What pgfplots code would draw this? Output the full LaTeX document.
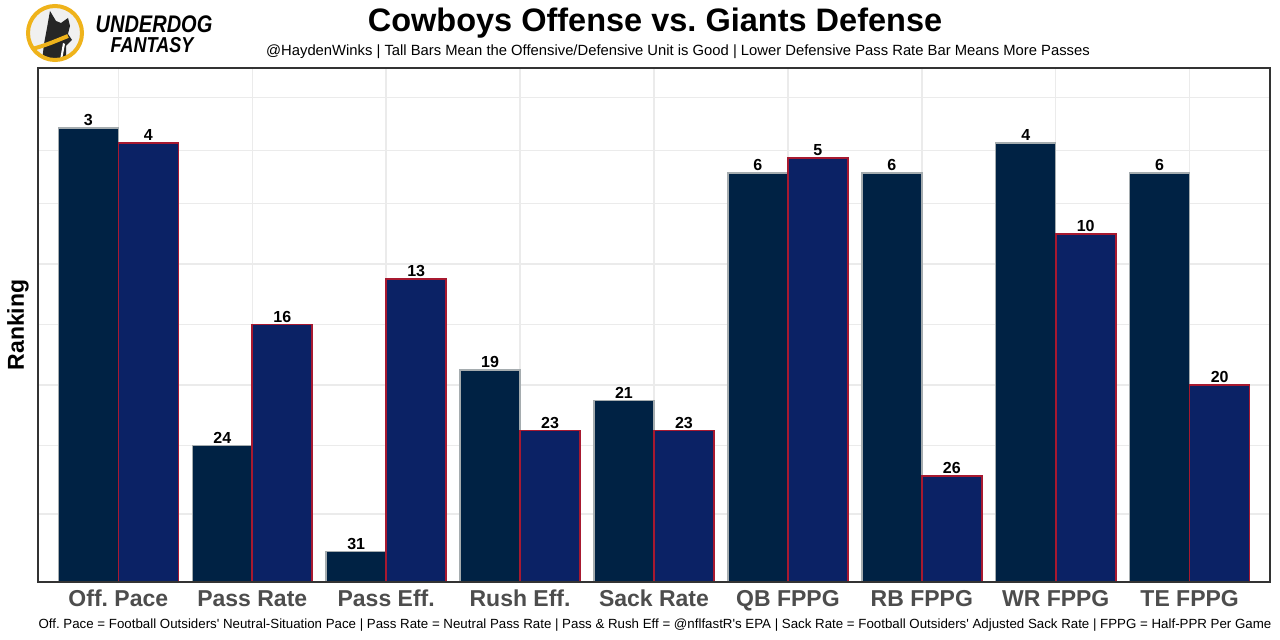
\documentclass[border=0pt]{standalone}
\usepackage{fontspec}
\setmainfont{Liberation Sans}
\usepackage{pgfplots}
\usepackage{pgfplotstable}
\pgfplotsset{compat=1.18}
\frenchspacing
\definecolor{offfill}{HTML}{002244}
\definecolor{offline}{HTML}{A5ACAF}
\definecolor{deffill}{HTML}{0B2265}
\definecolor{defline}{HTML}{A71930}
\definecolor{gridc}{HTML}{EBEBEB}
\definecolor{tickc}{HTML}{4D4D4D}
\definecolor{udyellow}{HTML}{EFB31B}

\pgfplotstableread{
x v r
0 30 3
1 9 24
2 2 31
3 14 19
4 12 21
5 27 6
6 27 6
7 29 4
8 27 6
}\offense
\pgfplotstableread{
x v r
0 29 4
1 17 16
2 20 13
3 10 23
4 10 23
5 28 5
6 7 26
7 23 10
8 13 20
}\defense

\begin{document}
\frenchspacing
\begin{tikzpicture}[x=1pt,y=1pt]
\useasboundingbox (0,0) rectangle (1280,640);
\fill[white] (0,0) rectangle (1280,640);
\begin{axis}[
 at={(38pt,58pt)}, anchor=south west,
 scale only axis, width=1232pt, height=514pt,
 xmin=-0.6, xmax=8.6, ymin=0, ymax=33.95,
 ybar=0pt, bar width=60pt,
 xtick={0,...,8},
 xticklabels={Off. Pace, Pass Rate, Pass Eff., Rush Eff., Sack Rate, QB FPPG, RB FPPG, WR FPPG, TE FPPG},
 ytick={4.5,9,13,17,21,25,28.5,32}, yticklabels={},
 major tick length=0pt,
 xmajorgrids, ymajorgrids, major grid style={gridc, line width=1.5pt},
 axis line style={draw=black!80, line width=1.3pt},
 xticklabel style={font=\fontsize{23}{23}\selectfont\bfseries\frenchspacing, text=tickc, anchor=base, yshift=-25pt},
 point meta=explicit symbolic,
 nodes near coords,
 nodes near coords style={font=\fontsize{16}{16}\selectfont\bfseries, text=black, anchor=south, inner sep=1.5pt},
]
\addplot[fill=offfill, draw=offline, line width=1.5pt] table[x=x,y=v,meta=r]{\offense};
\addplot[fill=deffill, draw=defline, line width=1.6pt] table[x=x,y=v,meta=r]{\defense};
\draw[black!80, line width=1.3pt] (rel axis cs:0,0) rectangle (rel axis cs:1,1);
\end{axis}
\node[rotate=90, font=\fontsize{23}{23}\selectfont\bfseries] at (18,315) {Ranking};
\node[anchor=base, font=\fontsize{32.5}{32.5}\selectfont\bfseries] at (655,608) {Cowboys Offense vs. Giants Defense};
\node[anchor=base, font=\fontsize{14.8}{14.8}\selectfont\frenchspacing] at (678,584) {@HaydenWinks | Tall Bars Mean the Offensive/Defensive Unit is Good | Lower Defensive Pass Rate Bar Means More Passes};
\node[anchor=base, font=\fontsize{13.3}{13.3}\selectfont\frenchspacing] at (655,11) {Off. Pace = Football Outsiders\textquotesingle\ Neutral-Situation Pace | Pass Rate = Neutral Pass Rate | Pass \& Rush Eff = @nflfastR\textquotesingle s EPA | Sack Rate = Football Outsiders\textquotesingle\ Adjusted Sack Rate | FPPG = Half-PPR Per Game};
% logo
\fill[gray!12] (55,607) circle (27);
\begin{scope}
\clip (55,607) circle (27);
\fill[black!85] (42,578) -- (44,596) -- (47,612) -- (50,629) -- (56,619) -- (61,617) -- (68,622) -- (70,614) -- (68,606) -- (72,600) -- (66,594) -- (66,578) -- cycle;
\draw[udyellow, line width=4pt] (28,590) .. controls (45,594) and (58,600) .. (68,604);
\fill[white] (60,580) -- (63,597) -- (65,596) -- (62,580) -- cycle;
\end{scope}
\draw[udyellow, line width=4pt] (55,607) circle (27);
\node[font=\fontsize{20}{20}\selectfont\bfseries\itshape, yscale=1.2] at (154,616) {UNDERDOG};
\node[font=\fontsize{18}{18}\selectfont\bfseries\itshape, yscale=1.2] at (152,595) {FANTASY};
\end{tikzpicture}
\end{document}
